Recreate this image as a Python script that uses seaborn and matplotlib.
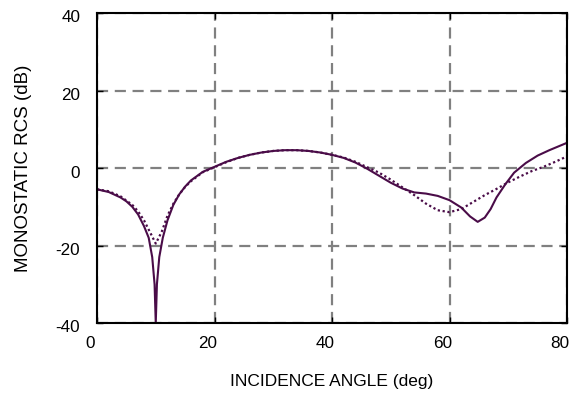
import numpy as np
import pandas as pd
import matplotlib
matplotlib.use('Agg')
import matplotlib.pyplot as plt
import matplotlib.transforms as mtrans
import seaborn as sns

# solid curve
angle_solid = [0, 2, 4, 5, 6, 7, 8, 8.8, 9.4, 9.8, 10.0, 10.2, 10.6, 11.2, 12, 13, 14, 15, 16, 18,
               20, 22, 24, 26, 28, 30, 32, 34, 36, 38, 40, 42, 44, 46, 48, 50, 52, 54, 56, 58,
               60, 62, 63.5, 64.8, 66, 67, 68, 69.5, 71, 73, 75, 77, 80]
rcs_solid = [-5.5, -6.2, -7.6, -8.6, -10.0, -12.0, -15.0, -18.0, -23, -30, -40, -30, -23, -18, -13.5,
             -9.5, -6.8, -4.8, -3.2, -1.0, 0.3, 1.6, 2.6, 3.4, 4.0, 4.4, 4.6, 4.6, 4.4, 4.0, 3.4,
             2.6, 1.4, -0.2, -2.0, -3.8, -5.3, -6.3, -6.6, -7.2, -8.3, -10.2, -12.5, -13.9, -12.8,
             -10.6, -7.6, -4.2, -1.2, 1.3, 3.2, 4.6, 6.5]

# dotted curve
angle_dot = [0, 2, 4, 6, 7, 8, 9, 10, 11, 12, 13, 14, 15, 16, 18, 20, 22, 24, 26, 28, 30, 32, 34,
             36, 38, 40, 42, 44, 46, 48, 50, 52, 54, 56, 58, 60, 62, 64, 66, 68, 70, 72, 74, 76,
             78, 80]
rcs_dot = [-5.5, -6.0, -7.3, -9.5, -11.2, -13.5, -16.5, -19.5, -16.5, -12.3, -9.2, -6.8, -4.9, -3.4,
           -1.1, 0.2, 1.5, 2.6, 3.4, 4.0, 4.4, 4.6, 4.6, 4.4, 4.0, 3.4, 2.7, 1.6, 0.2, -1.2, -3.0,
           -5.0, -7.0, -9.2, -10.9, -11.4, -10.6, -8.8, -7.0, -5.4, -3.7, -2.2, -0.8, 0.3, 1.6, 3.0]

line_color = '#4a0c48'

sns.set_style('ticks')
plt.rcParams['font.family'] = ['Liberation Sans', 'DejaVu Sans']
plt.rcParams['axes.unicode_minus'] = False
plt.rcParams['text.color'] = 'black'
plt.rcParams['axes.labelcolor'] = 'black'
plt.rcParams['xtick.color'] = 'black'
plt.rcParams['ytick.color'] = 'black'

fig = plt.figure(figsize=(5.71, 3.98), dpi=100)
ax = fig.add_axes([97 / 571, 1 - 323 / 398, 470 / 571, 310 / 398])

df_s = pd.DataFrame({'angle': angle_solid, 'rcs': rcs_solid})
df_d = pd.DataFrame({'angle': angle_dot, 'rcs': rcs_dot})
sns.lineplot(data=df_s, x='angle', y='rcs', ax=ax, color=line_color, linewidth=1.5)
sns.lineplot(data=df_d, x='angle', y='rcs', ax=ax, color=line_color, linewidth=1.6, linestyle=(0, (1, 1.2)))

ax.set_xlim(0, 80)
ax.set_ylim(-40, 40)
ax.set_xticks([0, 20, 40, 60, 80])
ax.set_yticks([-40, -20, 0, 20, 40])
ax.grid(True, color='#808080', linestyle=(0, (5, 3)), linewidth=1.6)
ax.set_axisbelow(True)
ax.tick_params(direction='in', length=4, width=1, labelsize=12.3, top=True, right=True,
               labeltop=False, labelright=False, colors='black')
ax.tick_params(axis='x', pad=9)
ax.tick_params(axis='y', pad=12)
for sp in ax.spines.values():
    sp.set_color('black')
    sp.set_linewidth(1.5)

# shift tick labels like the original
dx = mtrans.ScaledTranslation(-0.07, 0, fig.dpi_scale_trans)
for lab in ax.get_xticklabels():
    lab.set_transform(lab.get_transform() + dx)
dy = mtrans.ScaledTranslation(0, -0.035, fig.dpi_scale_trans)
for lab in ax.get_yticklabels():
    lab.set_transform(lab.get_transform() + dy)

ax.set_xlabel('INCIDENCE ANGLE (deg)', fontsize=12.5, labelpad=17, color='black')
ax.set_ylabel('MONOSTATIC RCS (dB)', fontsize=13.5, labelpad=17, color='black')

fig.savefig('out.png', dpi=100)
